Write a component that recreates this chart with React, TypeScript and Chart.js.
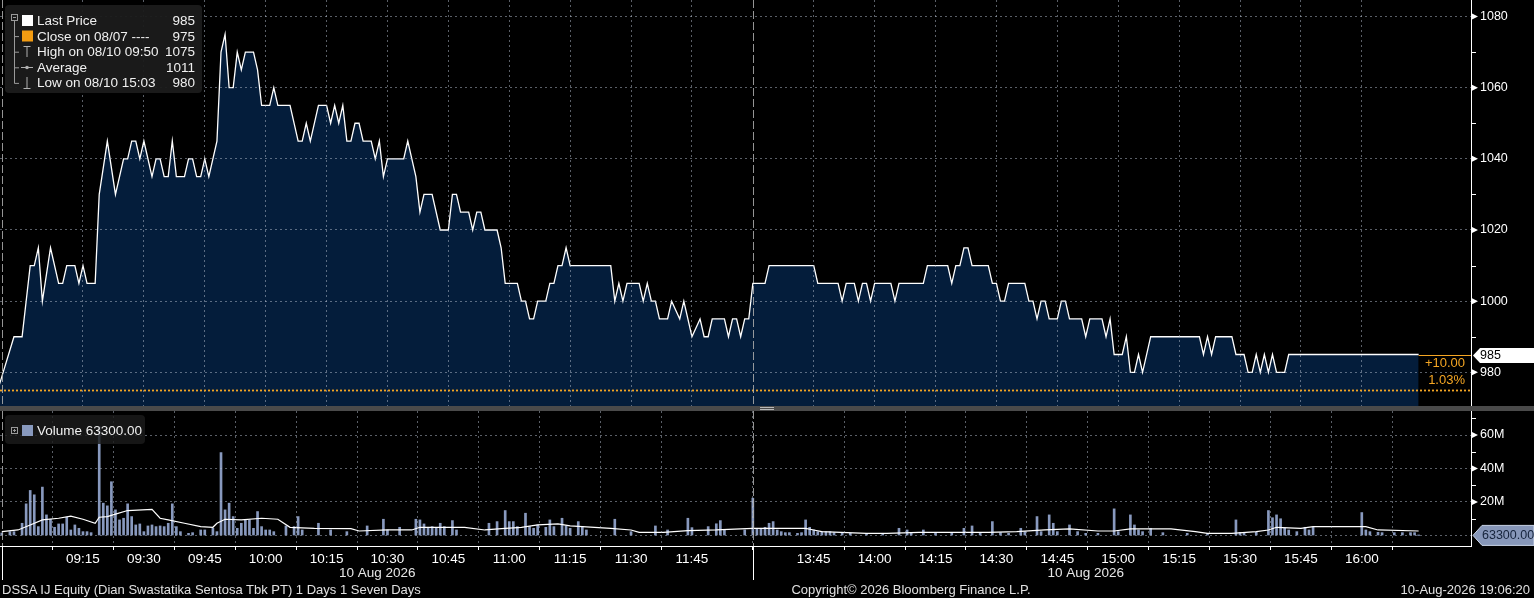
import React, { useEffect, useRef } from "react";
import { Chart, registerables } from "chart.js";
Chart.register(...registerables);

const FONT = "'Liberation Sans', Arial, Helvetica, sans-serif";
Chart.defaults.font.family = FONT;

// ---------------- data ----------------
const priceTimes = [
  "08:54","08:58","09:00","09:02","09:03","09:04","09:05","09:07","09:09","09:10","09:11","09:13",
  "09:14","09:15","09:16","09:18","09:19","09:21","09:23","09:25","09:26","09:27","09:28","09:29",
  "09:30","09:32","09:33","09:34","09:35","09:36","09:37","09:38","09:40","09:41","09:42","09:43",
  "09:44","09:45","09:46","09:48","09:49","09:50","09:51","09:52","09:53","09:54","09:55","09:57",
  "09:58","09:59","10:01","10:02","10:03","10:06","10:08","10:09","10:10","10:11","10:13","10:15",
  "10:16","10:17","10:18","10:19","10:20","10:21","10:22","10:23","10:24","10:26","10:27","10:28",
  "10:29","10:30","10:34","10:35","10:36","10:37","10:38","10:39","10:41","10:43","10:45","10:46",
  "10:47","10:48","10:50","10:51","10:52","10:53","10:54","10:57","10:58","10:59","11:02","11:03",
  "11:04","11:05","11:06","11:07","11:09","11:10","11:11","11:12","11:13","11:14","11:15","11:25",
  "11:26","11:27","11:28","11:29","11:32","11:33","11:34","11:35","11:36","11:37","11:39","11:40",
  "11:42","11:43","11:45","11:47","11:48","11:49","11:50","11:53","11:54","11:55","11:56","11:57","11:58","11:59",
  "13:30","13:33","13:34","13:45","13:46","13:51","13:52","13:53","13:55","13:56","13:57","13:58",
  "13:59","14:00","14:04","14:05","14:06","14:12","14:13","14:18","14:19","14:20","14:21","14:22",
  "14:23","14:24","14:28","14:29","14:30","14:31","14:32","14:33","14:37","14:38","14:39","14:40",
  "14:41","14:42","14:43","14:45","14:46","14:47","14:48","14:51","14:52","14:53","14:56","14:57",
  "14:58","14:59","15:01","15:02","15:03","15:04","15:05","15:06","15:08","15:20","15:21","15:22",
  "15:23","15:24","15:28","15:29","15:31","15:32","15:33","15:34","15:35","15:36","15:37","15:38",
  "15:39","15:41","15:42","16:14",
];
const priceValues = [
  975, 990, 990, 1010, 1010, 1015, 1000, 1015, 1005, 1005, 1010, 1010,
  1005, 1010, 1005, 1005, 1030, 1045, 1030, 1040, 1040, 1045, 1045, 1040,
  1045, 1035, 1040, 1040, 1035, 1035, 1045, 1035, 1035, 1040, 1040, 1035,
  1035, 1040, 1035, 1045, 1070, 1075, 1060, 1060, 1070, 1065, 1070, 1070,
  1065, 1055, 1055, 1060, 1055, 1055, 1045, 1045, 1050, 1045, 1055, 1055,
  1050, 1055, 1050, 1055, 1045, 1045, 1050, 1050, 1045, 1045, 1040, 1045,
  1035, 1040, 1040, 1045, 1040, 1035, 1025, 1030, 1030, 1020, 1020, 1030,
  1030, 1025, 1025, 1020, 1025, 1025, 1020, 1020, 1015, 1005, 1005, 1000,
  1000, 995, 995, 1000, 1000, 1005, 1005, 1010, 1010, 1015, 1010, 1010,
  1000, 1005, 1000, 1005, 1005, 1000, 1005, 1000, 1000, 995, 995, 1000,
  995, 1000, 990, 995, 990, 990, 995, 995, 990, 995, 995, 990, 995, 995,
  1005, 1005, 1010, 1010, 1005, 1005, 1000, 1005, 1005, 1000, 1005, 1005,
  1000, 1005, 1005, 1000, 1005, 1005, 1010, 1010, 1005, 1010, 1010, 1015,
  1015, 1010, 1010, 1005, 1005, 1000, 1000, 1005, 1005, 1000, 1000, 995,
  1000, 1000, 995, 995, 1000, 1000, 995, 995, 990, 995, 995, 990,
  995, 985, 985, 990, 980, 980, 985, 980, 990, 990, 985, 990,
  985, 990, 990, 985, 985, 980, 980, 985, 980, 985, 980, 985,
  980, 980, 985, 985,
];

// volume in millions of shares
const volTimes = [
  "08:55","08:57","08:58","09:00","09:01","09:02","09:03","09:04","09:05","09:06","09:07","09:08",
  "09:09","09:10","09:11","09:12","09:13","09:14","09:15","09:16","09:17","09:19","09:20","09:21",
  "09:22","09:23","09:24","09:25","09:26","09:27","09:28","09:29","09:30","09:31","09:32","09:33",
  "09:34","09:35","09:36","09:37","09:38","09:39","09:41","09:42","09:44","09:45","09:47","09:48",
  "09:49","09:50","09:51","09:52","09:53","09:54","09:55","09:56","09:57","09:58","09:59","10:00",
  "10:01","10:02","10:05","10:07","10:08","10:09","10:13","10:16","10:20","10:25","10:29","10:30",
  "10:33","10:37","10:38","10:39","10:40","10:41","10:42","10:43","10:44","10:46","10:47","10:55",
  "10:57","10:59","11:00","11:01","11:02","11:04","11:05","11:06","11:07","11:09","11:10","11:11",
  "11:13","11:14","11:15","11:17","11:18","11:19","11:26","11:30","11:36","11:39","11:44","11:45",
  "11:49","11:51","11:52","11:53","11:58","13:30","13:31","13:32","13:33","13:34","13:35","13:36",
  "13:37","13:38","13:39","13:41","13:42","13:43","13:44","13:45","13:46","13:47","13:48","13:49",
  "13:50","13:52","13:54","13:58","14:02","14:06","14:08","14:09","14:12","14:15","14:19","14:22",
  "14:24","14:26","14:29","14:31","14:33","14:36","14:37","14:40","14:41","14:43","14:44","14:45",
  "14:48","14:50","14:52","14:55","14:59","15:00","15:03","15:04","15:05","15:06","15:08","15:11",
  "15:17","15:22","15:29","15:30","15:31","15:34","15:37","15:38","15:39","15:40","15:41","15:42",
  "15:44","15:46","15:47","15:48","16:00","16:01","16:02","16:04","16:05","16:08","16:10","16:12",
  "16:13","16:14",
];
const volValues = [
  1.5, 2.3, 2.3, 7.3, 18.9, 26.9, 24.3, 5.3, 28.9, 12.3, 9.7, 4.9,
  6.9, 6.9, 10.9, 3.3, 6.3, 4.3, 2.3, 2.3, 1.7, 65.0, 19.3, 17.7,
  32.1, 15.3, 9.3, 10.3, 18.9, 11.3, 6.3, 6.9, 2.3, 5.7, 6.3, 5.3,
  5.7, 5.3, 7.3, 18.9, 5.3, 2.3, 1.3, 1.7, 3.3, 3.3, 4.3, 2.3,
  49.5, 15.3, 19.3, 11.3, 4.3, 7.3, 9.3, 9.3, 4.3, 14.3, 5.3, 3.3,
  3.3, 2.3, 5.7, 5.3, 11.3, 3.3, 7.3, 3.3, 2.3, 5.7, 9.7, 3.3,
  4.9, 9.7, 9.3, 6.9, 4.9, 5.3, 4.3, 7.3, 5.3, 8.9, 3.3, 7.3,
  8.3, 14.9, 8.3, 8.3, 5.3, 13.3, 5.3, 4.3, 6.3, 4.9, 9.3, 5.3,
  10.3, 5.7, 4.3, 8.3, 5.3, 3.3, 9.7, 2.3, 5.7, 3.3, 10.3, 4.7,
  5.3, 7.0, 8.9, 3.3, 3.3, 22.3, 4.3, 4.3, 4.9, 7.3, 8.3, 3.3,
  2.3, 1.7, 1.7, 1.3, 1.7, 9.3, 4.9, 3.3, 2.3, 2.3, 2.3, 2.3,
  1.7, 1.3, 1.3, 1.3, 1.3, 4.3, 3.3, 1.7, 3.3, 1.7, 1.3, 4.3,
  5.7, 1.7, 8.3, 1.7, 1.3, 4.3, 2.3, 11.3, 2.3, 12.3, 7.3, 2.3,
  6.3, 2.3, 1.3, 1.3, 15.9, 2.3, 12.3, 6.3, 3.3, 2.3, 4.3, 1.7,
  1.3, 1.3, 9.3, 1.9, 1.9, 1.9, 14.9, 10.6, 12.3, 10.0, 4.3, 3.3,
  2.3, 4.9, 3.3, 4.9, 13.7, 3.3, 2.3, 1.9, 1.7, 1.7, 1.7, 1.7,
  1.7, 0.0633,
];

const volAvgTimes = [
  "08:55","08:59","09:02","09:05","09:09","09:12","09:15","09:18","09:19","09:21","09:23","09:26",
  "09:32","09:34","09:36","09:40","09:44","09:47","09:48","09:50","09:54","09:59","10:03","10:06",
  "10:12","10:21","10:23","10:30","10:36","10:38","10:49","10:54","10:59","11:03","11:07","11:12",
  "11:15","11:18","11:25","11:30","11:32","11:38","11:44","11:51","13:30","13:43","13:45","13:47",
  "13:58","14:03","14:11","14:21","14:28","14:35","14:42","14:48","14:55","14:59","15:03","15:13",
  "15:19","15:22","15:28","15:34","15:37","15:39","15:45","15:48","16:01","16:04","16:14",
];
const volAvgValues = [
  2.3, 3.3, 6.3, 9.3, 10.3, 11.6, 9.7, 7.3, 10.9, 11.3, 12.8, 14.9,
  15.6, 10.3, 9.3, 7.3, 5.3, 4.9, 7.3, 9.7, 9.3, 10.3, 9.7, 4.9,
  4.3, 4.1, 2.7, 3.3, 3.3, 4.9, 4.9, 3.3, 4.3, 4.9, 6.3, 6.9,
  5.7, 5.3, 4.3, 3.3, 1.9, 1.9, 2.9, 3.3, 4.3, 4.3, 3.3, 2.3,
  1.3, 1.3, 1.9, 1.9, 1.9, 2.3, 3.3, 3.9, 2.7, 2.7, 3.9, 3.9,
  2.3, 1.3, 1.3, 2.3, 3.3, 4.9, 4.3, 5.3, 5.3, 3.3, 2.7,
];

const timeTicks = [
  "09:15","09:30","09:45","10:00","10:15","10:30","10:45","11:00","11:15","11:30","11:45",
  "13:45","14:00","14:15","14:30","14:45","15:00","15:15","15:30","15:45","16:00",
];
const sessionStarts = ["08:55", "13:30"];
const priceTicks = [980, 1000, 1020, 1040, 1060, 1080];
const priceMinorTicks = [990, 1010, 1030, 1050, 1070];
const volTicks = [0, 20, 40, 60];
const volMinorTicks = [10, 30, 50, 70];

const prevClose = 975;
const highPrice = 1075;
const lowPrice = 980;
const averagePrice = 1011;
const lastVolume = 63300;
const dateLabel = "10 Aug 2026";

// ------------- time axis helpers (sessions are joined, lunch removed) -------------
const S1_START = 8 * 60 + 55;
const S2_START = 13 * 60 + 30;
const S1_LEN = 185;
function toM(t: string): number {
  const [h, mi] = t.split(":").map(Number);
  const v = h * 60 + mi;
  return v >= S2_START ? S1_LEN + v - S2_START : v - S1_START;
}
function mLabel(m: number): string {
  const v = m >= S1_LEN ? S2_START + m - S1_LEN : S1_START + m;
  const h = Math.floor(v / 60);
  const mi = Math.round(v % 60);
  return `${String(h).padStart(2, "0")}:${String(mi).padStart(2, "0")}`;
}
const X_MIN = -0.44;
const X_MAX = 361.9;

const GRID = "rgba(180,190,205,0.5)";
const ORANGE = "#f5a623";
const AXIS_W = 63;

function line(ctx: CanvasRenderingContext2D, x1: number, y1: number, x2: number, y2: number) {
  ctx.beginPath();
  ctx.moveTo(x1, y1);
  ctx.lineTo(x2, y2);
  ctx.stroke();
}
function triangle(ctx: CanvasRenderingContext2D, x: number, y: number) {
  ctx.beginPath();
  ctx.moveTo(x + 1, y - 3);
  ctx.lineTo(x + 7, y);
  ctx.lineTo(x + 1, y + 3);
  ctx.closePath();
  ctx.fill();
}

const pricePlugin = {
  id: "priceDecor",
  afterDraw(chart: any) {
    const { ctx, chartArea: ca, scales } = chart;
    const x = scales.x, y = scales.y;
    ctx.save();
    // previous close dotted line
    const yc = Math.round(y.getPixelForValue(prevClose)) + 0.5;
    ctx.strokeStyle = ORANGE;
    ctx.lineWidth = 1.8;
    ctx.setLineDash([2, 2]);
    line(ctx, ca.left, yc, ca.right, yc);
    // session separators
    ctx.setLineDash([8, 3]);
    ctx.lineWidth = 1;
    ctx.strokeStyle = "rgba(175,175,175,0.85)";
    sessionStarts.forEach((s) => {
      const px = Math.round(x.getPixelForValue(toM(s))) + 0.5;
      line(ctx, px, ca.top, px, ca.bottom);
    });
    ctx.setLineDash([]);
    // last price marker line and change text
    const lastPrice = priceValues[priceValues.length - 1];
    const lastX = x.getPixelForValue(toM(priceTimes[priceTimes.length - 1]));
    const yl = Math.round(y.getPixelForValue(lastPrice)) + 0.5;
    ctx.strokeStyle = ORANGE;
    line(ctx, lastX, yl, ca.right, yl);
    const diff = lastPrice - prevClose;
    ctx.fillStyle = ORANGE;
    ctx.font = `13px ${FONT}`;
    ctx.textAlign = "right";
    ctx.textBaseline = "middle";
    ctx.fillText(`${diff >= 0 ? "+" : ""}${diff.toFixed(2)}`, ca.right - 6, yl + 8);
    ctx.fillText(`${((diff / prevClose) * 100).toFixed(2)}%`, ca.right - 6, yl + 25);
    // axis line
    ctx.strokeStyle = "#ffffff";
    ctx.lineWidth = 1;
    line(ctx, ca.right + 0.5, ca.top, ca.right + 0.5, ca.bottom);
    ctx.fillStyle = "#ffffff";
    priceTicks.forEach((v) => triangle(ctx, ca.right, y.getPixelForValue(v)));
    priceMinorTicks.forEach((v) => {
      const py = Math.round(y.getPixelForValue(v)) + 0.5;
      line(ctx, ca.right, py, ca.right + 5, py);
    });
    // last price tag
    const w = chart.width;
    ctx.fillStyle = "#ffffff";
    ctx.beginPath();
    ctx.moveTo(ca.right + 2, yl);
    ctx.lineTo(ca.right + 9, yl - 7.5);
    ctx.lineTo(w, yl - 7.5);
    ctx.lineTo(w, yl + 7.5);
    ctx.lineTo(ca.right + 9, yl + 7.5);
    ctx.closePath();
    ctx.fill();
    ctx.fillStyle = "#000000";
    ctx.textAlign = "left";
    ctx.font = `12.5px ${FONT}`;
    ctx.fillText(String(lastPrice), ca.right + 9, yl + 0.5);
    ctx.restore();
  },
};

const volPlugin = {
  id: "volDecor",
  afterDraw(chart: any) {
    const { ctx, chartArea: ca, scales } = chart;
    const x = scales.x, y = scales.y;
    ctx.save();
    ctx.lineWidth = 1;
    // session separators
    ctx.setLineDash([8, 3]);
    ctx.strokeStyle = "rgba(175,175,175,0.85)";
    sessionStarts.forEach((s) => {
      const px = Math.round(x.getPixelForValue(toM(s))) + 0.5;
      line(ctx, px, ca.top, px, ca.bottom);
    });
    ctx.setLineDash([]);
    ctx.strokeStyle = "#ffffff";
    sessionStarts.forEach((s) => {
      const px = Math.round(x.getPixelForValue(toM(s))) + 0.5;
      line(ctx, px, ca.bottom, px, ca.bottom + 34);
    });
    // axes
    line(ctx, ca.left, Math.round(ca.bottom) + 0.5, ca.right + 1, Math.round(ca.bottom) + 0.5);
    line(ctx, ca.right + 0.5, ca.top, ca.right + 0.5, ca.bottom);
    ctx.fillStyle = "#ffffff";
    volTicks.filter((v) => v > 0).forEach((v) => triangle(ctx, ca.right, y.getPixelForValue(v)));
    volMinorTicks.forEach((v) => {
      const py = Math.round(y.getPixelForValue(v)) + 0.5;
      line(ctx, ca.right, py, ca.right + 5, py);
    });
    // date labels under each session
    const mEnd = toM(priceTimes[priceTimes.length - 1]);
    const p0 = x.getPixelForValue(toM(sessionStarts[0]));
    const p1 = x.getPixelForValue(toM(sessionStarts[1]));
    const p2 = x.getPixelForValue(mEnd);
    ctx.font = `13.5px ${FONT}`;
    ctx.textAlign = "center";
    ctx.textBaseline = "middle";
    ctx.fillStyle = "#e6e6e6";
    ctx.fillText(dateLabel, (p0 + p1) / 2, ca.bottom + 27);
    ctx.fillText(dateLabel, (p1 + p2) / 2, ca.bottom + 27);
    // last volume tag
    const yv = y.getPixelForValue(lastVolume / 1e6);
    const w = chart.width;
    ctx.fillStyle = "#8797b9";
    ctx.strokeStyle = "#c9d3e6";
    ctx.beginPath();
    ctx.moveTo(ca.right + 2, yv);
    ctx.lineTo(ca.right + 11, yv - 10);
    ctx.lineTo(w, yv - 10);
    ctx.lineTo(w, yv + 10);
    ctx.lineTo(ca.right + 11, yv + 10);
    ctx.closePath();
    ctx.fill();
    ctx.stroke();
    ctx.fillStyle = "#15233b";
    ctx.textAlign = "left";
    ctx.font = `12.5px ${FONT}`;
    ctx.fillText(lastVolume.toFixed(2), ca.right + 11, yv + 0.5);
    ctx.restore();
  },
};

const legendRows = [
  { label: "Last Price", value: String(priceValues[priceValues.length - 1]) },
  { label: "Close on 08/07 ----", value: String(prevClose) },
  { label: "High on 08/10 09:50", value: String(highPrice) },
  { label: "Average", value: String(averagePrice) },
  { label: "Low on 08/10 15:03", value: String(lowPrice) },
];

export default function App() {
  const priceRef = useRef<HTMLCanvasElement>(null);
  const volRef = useRef<HTMLCanvasElement>(null);

  useEffect(() => {
    document.body.style.margin = "0";
    document.body.style.background = "#000";
    const xTickBuilder = (s: any) => {
      s.ticks = timeTicks.map((t) => ({ value: toM(t) }));
    };
    const a = new Chart(priceRef.current as HTMLCanvasElement, {
      type: "line",
      data: {
        datasets: [
          {
            data: priceTimes.map((t, i) => ({ x: toM(t), y: priceValues[i] })),
            borderColor: "#ffffff",
            borderWidth: 1.3,
            backgroundColor: "#041d3b",
            fill: "start",
            pointRadius: 0,
            tension: 0,
          },
        ],
      },
      options: {
        animation: false,
        responsive: false,
        maintainAspectRatio: false,
        devicePixelRatio: 1,
        layout: { padding: 0 },
        plugins: { legend: { display: false }, tooltip: { enabled: false } },
        scales: {
          x: {
            type: "linear",
            min: X_MIN,
            max: X_MAX,
            afterBuildTicks: xTickBuilder,
            afterFit: (s: any) => {
              s.height = 0;
              s.paddingLeft = 0;
              s.paddingRight = 0;
            },
            ticks: { display: false },
            grid: { color: GRID, drawTicks: false, z: 1 },
            border: { display: false, dash: [2, 3] },
          },
          y: {
            position: "right",
            min: 970.53,
            max: 1084.64,
            afterBuildTicks: (s: any) => {
              s.ticks = priceTicks.map((v) => ({ value: v }));
            },
            afterFit: (s: any) => {
              s.width = AXIS_W;
              s.paddingTop = 0;
              s.paddingBottom = 0;
            },
            ticks: { color: "#ffffff", padding: 9, font: { size: 12.5 }, callback: (v: any) => String(v) },
            grid: { color: GRID, drawTicks: false, z: 1 },
            border: { display: false, dash: [2, 3] },
          },
        },
      } as any,
      plugins: [pricePlugin],
    });

    const b = new Chart(volRef.current as HTMLCanvasElement, {
      type: "bar",
      data: {
        datasets: [
          {
            type: "line",
            data: volAvgTimes.map((t, i) => ({ x: toM(t), y: volAvgValues[i] })),
            borderColor: "#ffffff",
            borderWidth: 1.2,
            pointRadius: 0,
            tension: 0,
            order: 0,
          } as any,
          {
            type: "bar",
            data: volTimes.map((t, i) => ({ x: toM(t), y: volValues[i] })),
            backgroundColor: "#8899be",
            borderWidth: 0,
            barThickness: 2,
            order: 1,
          },
        ],
      },
      options: {
        animation: false,
        responsive: false,
        maintainAspectRatio: false,
        devicePixelRatio: 1,
        layout: { padding: 0 },
        plugins: { legend: { display: false }, tooltip: { enabled: false } },
        scales: {
          x: {
            type: "linear",
            offset: false,
            min: X_MIN,
            max: X_MAX,
            afterBuildTicks: xTickBuilder,
            afterFit: (s: any) => {
              s.height = 52;
              s.paddingLeft = 0;
              s.paddingRight = 0;
            },
            ticks: {
              color: "#ffffff",
              padding: 1,
              maxRotation: 0,
              autoSkip: false,
              font: { size: 13.5 },
              callback: (v: any) => mLabel(Number(v)),
            },
            grid: { color: GRID, drawTicks: true, tickLength: 4, tickColor: "#ffffff", tickBorderDash: [], z: 1 },
            border: { display: false, dash: [2, 3] },
          },
          y: {
            position: "right",
            min: -6.27,
            max: 74.33,
            afterBuildTicks: (s: any) => {
              s.ticks = volTicks.map((v) => ({ value: v }));
            },
            afterFit: (s: any) => {
              s.width = AXIS_W;
              s.paddingTop = 0;
              s.paddingBottom = 0;
            },
            ticks: {
              color: "#ffffff",
              padding: 9,
              font: { size: 12.5 },
              callback: (v: any) => (Number(v) === 0 ? "" : `${v}M`),
            },
            grid: { color: GRID, drawTicks: false, z: 1 },
            border: { display: false, dash: [2, 3] },
          },
        },
      } as any,
      plugins: [volPlugin],
    });

    return () => {
      a.destroy();
      b.destroy();
    };
  }, []);

  const rowTop = (i: number) => 13 + i * 15.6;
  const iconStroke = "#9a9a9a";

  return (
    <div
      style={{
        position: "relative",
        width: 1534,
        height: 598,
        background: "#000",
        overflow: "hidden",
        fontFamily: FONT,
        color: "#f0f0f0",
      }}
    >
      <canvas ref={priceRef} width={1534} height={406} style={{ position: "absolute", left: 0, top: 0, width: 1534, height: 406 }} />
      <div style={{ position: "absolute", left: 0, top: 406, width: 1534, height: 5, background: "#4a4a4a" }} />
      <div style={{ position: "absolute", left: 760, top: 407, width: 14, height: 1, background: "#b8b8b8" }} />
      <div style={{ position: "absolute", left: 760, top: 409, width: 14, height: 1, background: "#b8b8b8" }} />
      <canvas ref={volRef} width={1534} height={187} style={{ position: "absolute", left: 0, top: 411, width: 1534, height: 187 }} />

      {/* price legend */}
      <div style={{ position: "absolute", left: 5, top: 5, width: 197, height: 88, background: "rgba(27,27,27,0.95)", borderRadius: 4 }} />
      <svg width={40} height={100} style={{ position: "absolute", left: 0, top: 0 }}>
        <rect x={11.5} y={14.5} width={6} height={6} fill="none" stroke={iconStroke} strokeWidth={1} />
        <line x1={13} y1={17.5} x2={16} y2={17.5} stroke={iconStroke} />
        <line x1={14.5} y1={20.5} x2={14.5} y2={83.5} stroke={iconStroke} />
        {[1, 2, 3, 4].map((i) => (
          <line key={i} x1={14.5} y1={rowTop(i) + 8} x2={19} y2={rowTop(i) + 8} stroke={iconStroke} />
        ))}
        <rect x={22} y={15} width={11} height={11} fill="#ffffff" />
        <rect x={22} y={30.5} width={11} height={11} fill="#f39c12" />
        <line x1={23.5} y1={46.5} x2={30.5} y2={46.5} stroke="#b0b0b0" />
        <line x1={27} y1={46.5} x2={27} y2={57} stroke="#b0b0b0" />
        <line x1={21} y1={67.5} x2={33} y2={67.5} stroke="#b0b0b0" />
        <circle cx={27} cy={67.5} r={1.8} fill="#b0b0b0" />
        <line x1={27} y1={77} x2={27} y2={88} stroke="#b0b0b0" />
        <line x1={23.5} y1={88.5} x2={30.5} y2={88.5} stroke="#b0b0b0" />
      </svg>
      {legendRows.map((r, i) => (
        <div
          key={r.label}
          style={{
            position: "absolute",
            left: 37,
            top: rowTop(i),
            width: 158,
            height: 16,
            lineHeight: "16px",
            fontSize: 13.5,
            whiteSpace: "pre",
          }}
        >
          <span style={{ position: "absolute", left: 0, top: 0 }}>{r.label}</span>
          <span style={{ position: "absolute", right: 0, top: 0 }}>{r.value}</span>
        </div>
      ))}

      {/* volume legend */}
      <div style={{ position: "absolute", left: 5, top: 415, width: 140, height: 29, background: "rgba(27,27,27,0.82)", borderRadius: 4 }} />
      <svg width={40} height={30} style={{ position: "absolute", left: 0, top: 415 }}>
        <rect x={11.5} y={12.5} width={6} height={6} fill="none" stroke={iconStroke} />
        <line x1={13} y1={15.5} x2={16} y2={15.5} stroke={iconStroke} />
        <line x1={14.5} y1={14} x2={14.5} y2={17} stroke={iconStroke} />
        <rect x={22} y={10} width={11} height={11} fill="#8899be" />
      </svg>
      <div style={{ position: "absolute", left: 37, top: 423, height: 16, lineHeight: "16px", fontSize: 13.5, whiteSpace: "pre" }}>
        {`Volume ${lastVolume.toFixed(2)}`}
      </div>

      {/* footer */}
      <div style={{ position: "absolute", left: 2, top: 582, height: 16, lineHeight: "16px", fontSize: 13, whiteSpace: "pre", color: "#e0e0e0" }}>
        DSSA IJ Equity (Dian Swastatika Sentosa Tbk PT) 1 Days 1 Seven Days
      </div>
      <div style={{ position: "absolute", left: 711, width: 400, top: 582, height: 16, lineHeight: "16px", fontSize: 13, textAlign: "center", whiteSpace: "pre", color: "#e0e0e0" }}>
        Copyright© 2026 Bloomberg Finance L.P.
      </div>
      <div style={{ position: "absolute", right: 4, top: 582, height: 16, lineHeight: "16px", fontSize: 13, whiteSpace: "pre", color: "#e0e0e0" }}>
        10-Aug-2026 19:06:20
      </div>
    </div>
  );
}
